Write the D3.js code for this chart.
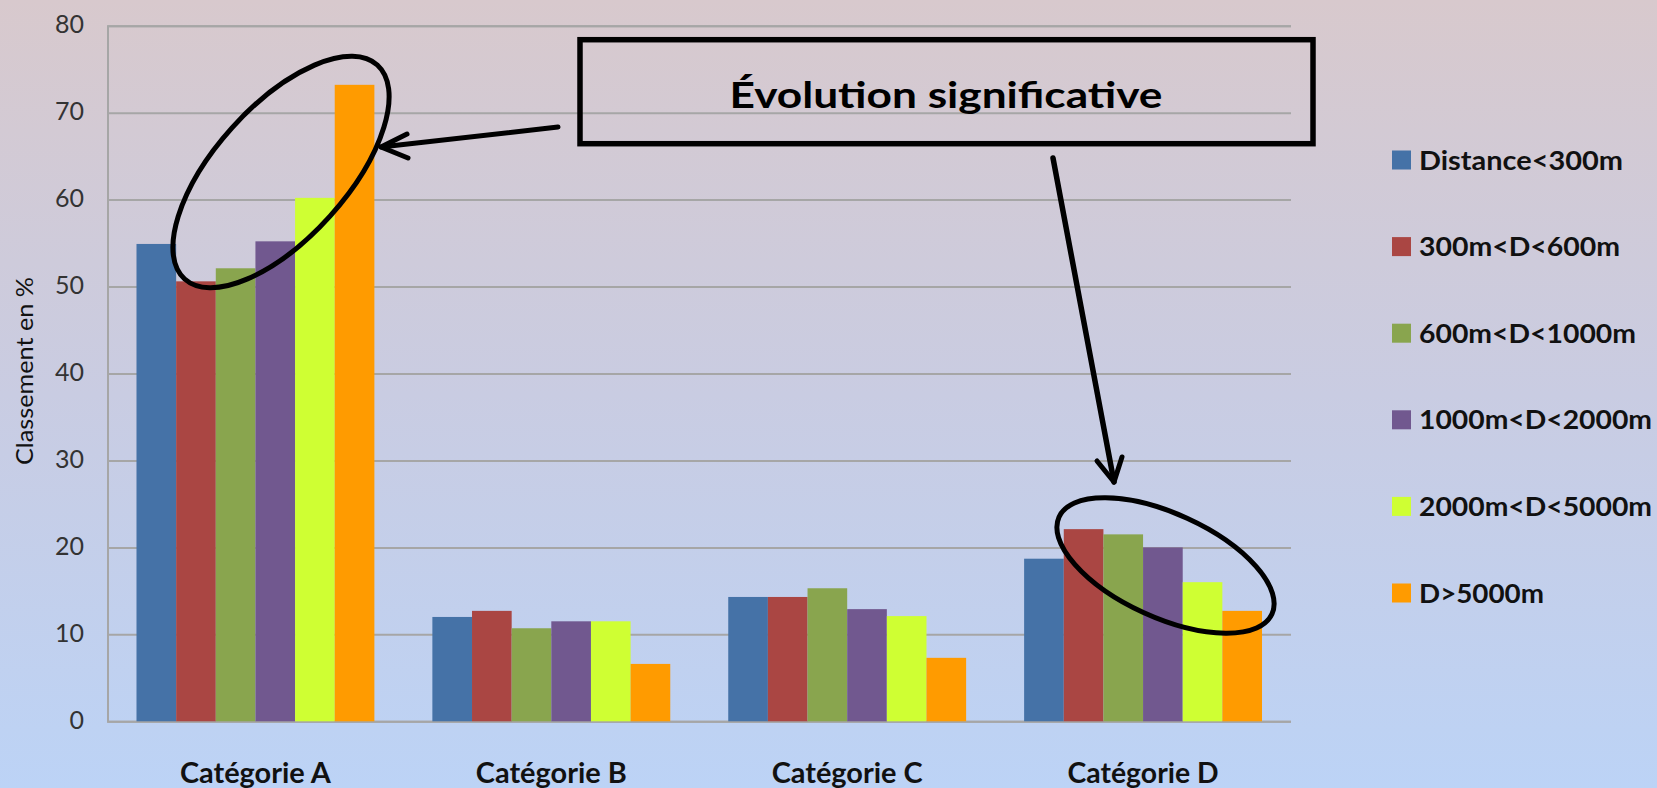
<!DOCTYPE html>
<html>
<head>
<meta charset="utf-8">
<script src="https://cdn.jsdelivr.net/npm/d3@7"></script>
<style>
  html, body { margin: 0; padding: 0; overflow: hidden; }
  svg { display: block; }
  text { font-family: Lato, "Open Sans", sans-serif; }
</style>
</head>
<body>
<svg id="chart" width="1657" height="788"></svg>
<script>
// ---- data ----
const categories = ["Catégorie A", "Catégorie B", "Catégorie C", "Catégorie D"];
const seriesNames = ["Distance<300m", "300m<D<600m", "600m<D<1000m", "1000m<D<2000m", "2000m<D<5000m", "D>5000m"];
// one array per distance band, values per category (A, B, C, D)
const distLt300    = [54.9, 12.0, 14.3, 18.7];
const dist300_600  = [50.6, 12.7, 14.3, 22.1];
const dist600_1000 = [52.1, 10.7, 15.3, 21.5];
const dist1000_2000= [55.2, 11.5, 12.9, 20.0];
const dist2000_5000= [60.2, 11.5, 12.1, 16.0];
const distGt5000   = [73.2,  6.6,  7.3, 12.7];
const yTicks = [0, 10, 20, 30, 40, 50, 60, 70, 80];
const yTitle = "Classement en %";
const noteText = "Évolution significative";

const seriesValues = [distLt300, dist300_600, dist600_1000, dist1000_2000, dist2000_5000, distGt5000];
const colors = ["#4572A7", "#AA4643", "#89A54E", "#71588F", "#CFFF33", "#FF9B00"];

// ---- layout ----
const W = 1657, H = 788;
const plot = { left: 107.5, right: 1291, top: 25.7, bottom: 721.3 };
// rendered widths of the text runs (px)
const legendTextWidths = [204, 201, 217, 233, 233, 125];
const catLabelWidth = 151, noteWidth = 433, yTitleWidth = 188;

const svg = d3.select("#chart");

// background gradient
const defs = svg.append("defs");
const grad = defs.append("linearGradient").attr("id", "bg")
  .attr("x1", 0).attr("y1", 0).attr("x2", 0).attr("y2", 1);
grad.append("stop").attr("offset", "0%").attr("stop-color", "#D8C9CD");
grad.append("stop").attr("offset", "50%").attr("stop-color", "#C9CCE2");
grad.append("stop").attr("offset", "100%").attr("stop-color", "#BCD3F6");
svg.append("rect").attr("width", W).attr("height", H).attr("fill", "url(#bg)");

// scales
const y = d3.scaleLinear().domain([0, 80]).range([plot.bottom, plot.top]);
const x0 = d3.scaleBand().domain(categories).range([plot.left, plot.right])
  .paddingInner(0.196).paddingOuter(0.098);
const x1 = d3.scaleBand().domain(seriesNames).range([0, x0.bandwidth()]).padding(0);

// gridlines + value axis
const yAxis = d3.axisLeft(y).tickValues(yTicks)
  .tickSize(-(plot.right - plot.left)).tickPadding(23).tickFormat(d3.format("d"));
const gy = svg.append("g").attr("transform", `translate(${plot.left},0)`).call(yAxis);
gy.select(".domain").attr("stroke", "#A6A6A6").attr("stroke-width", 2);
gy.selectAll(".tick line").attr("stroke", "#A6A6A6").attr("stroke-width", 2);
gy.selectAll(".tick text")
  .attr("fill", "#333").attr("font-size", 25).attr("dy", "0.28em")
  .attr("x", -(plot.left - 84)).attr("text-anchor", "end");

// bars
const groups = svg.append("g").selectAll("g")
  .data(categories).join("g")
  .attr("transform", d => `translate(${x0(d)},0)`);
groups.selectAll("rect")
  .data((c, ci) => seriesNames.map((s, si) => ({ s, si, v: seriesValues[si][ci] })))
  .join("rect")
  .attr("x", d => x1(d.s))
  .attr("width", x1.bandwidth())
  .attr("y", d => y(d.v))
  .attr("height", d => y(0) - y(d.v))
  .attr("fill", d => colors[d.si]);

// category labels
svg.append("g").selectAll("text")
  .data(categories).join("text")
  .attr("x", d => x0(d) + x0.bandwidth() / 2)
  .attr("y", 783)
  .attr("text-anchor", "middle")
  .attr("font-size", 29).attr("font-weight", 700).attr("fill", "#111")
  .attr("textLength", catLabelWidth).attr("lengthAdjust", "spacingAndGlyphs")
  .text(d => d);

// y axis title
svg.append("text")
  .attr("transform", "translate(33,371) rotate(-90)")
  .attr("text-anchor", "middle")
  .attr("font-size", 23).attr("fill", "#111")
  .attr("textLength", yTitleWidth).attr("lengthAdjust", "spacingAndGlyphs")
  .text(yTitle);

// legend
const legend = svg.append("g").attr("transform", "translate(1392,0)");
const legItems = legend.selectAll("g").data(seriesNames).join("g")
  .attr("transform", (d, i) => `translate(0,${160 + i * 86.6})`);
legItems.append("rect").attr("x", 0).attr("y", -9.5).attr("width", 19).attr("height", 19)
  .attr("fill", (d, i) => colors[i]);
legItems.append("text").attr("x", 27).attr("y", 9.5)
  .attr("font-size", 26).attr("font-weight", 700).attr("fill", "#111")
  .attr("textLength", (d, i) => legendTextWidths[i]).attr("lengthAdjust", "spacingAndGlyphs")
  .text(d => d);

// annotation: box with caption
const note = svg.append("g");
note.append("rect").attr("x", 580).attr("y", 39.7).attr("width", 733).attr("height", 104)
  .attr("fill", "none").attr("stroke", "#000").attr("stroke-width", 5.5);
note.append("text").attr("x", 946).attr("y", 108)
  .attr("text-anchor", "middle").attr("font-size", 37).attr("font-weight", 700)
  .attr("fill", "#000")
  .attr("textLength", noteWidth).attr("lengthAdjust", "spacingAndGlyphs")
  .text(noteText);

// hand-drawn style ellipses around the highlighted bars
const marks = svg.append("g").attr("fill", "none").attr("stroke", "#000")
  .attr("stroke-width", 5).attr("stroke-linecap", "round").attr("stroke-linejoin", "round");
marks.append("ellipse").attr("cx", 0).attr("cy", 0).attr("rx", 144).attr("ry", 66)
  .attr("transform", "translate(281,172) rotate(-48)");
marks.append("ellipse").attr("cx", 0).attr("cy", 0).attr("rx", 117).attr("ry", 52)
  .attr("transform", "translate(1165.5,565.5) rotate(24.5)");

// arrows from the caption box
const line = d3.line();
marks.append("path").attr("d", line([[558, 127], [381, 147]]));
marks.append("path").attr("d", line([[407, 134], [381, 147], [408, 158]]));
marks.append("path").attr("d", line([[1053, 158], [1114, 482]])).attr("stroke-width", 5.5);
marks.append("path").attr("d", line([[1097, 461], [1114, 482], [1122, 457]]));
</script>
</body>
</html>
